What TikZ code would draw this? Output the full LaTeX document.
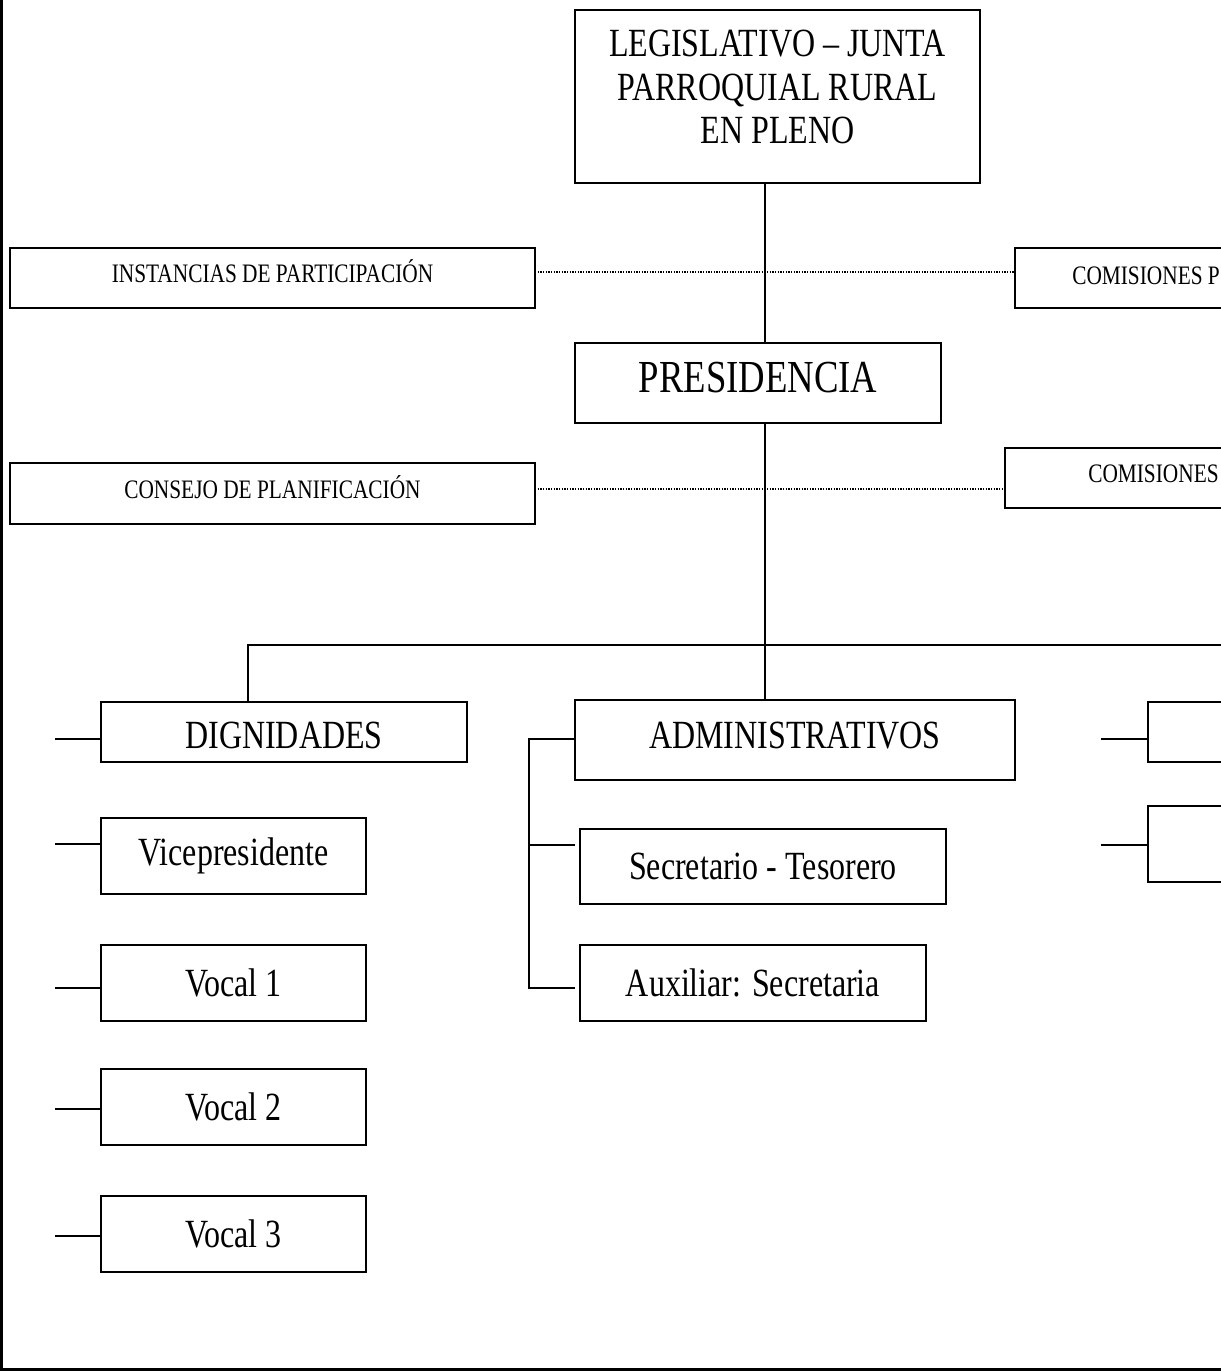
\documentclass[tikz,border=0pt]{standalone}
\usepackage{fontspec}
\setmainfont{Liberation Serif}[FakeStretch=0.8]
\begin{document}
\begin{tikzpicture}[x=0.75pt,y=-0.75pt,
  bx/.style 2 args={draw, line width=1.5pt, inner sep=0pt, outer sep=0pt,
    minimum width=#1*0.75pt, minimum height=#2*0.75pt, align=center},
  bigtxt/.style={font=\fontsize{30}{32.3}\selectfont},
  prestxt/.style={font=\fontsize{34.4}{36}\selectfont},
  smalltxt/.style={font=\fontsize{20}{22}\selectfont},
  tpos/.style={text height=#1, text depth=0pt},
  conn/.style={line width=1.5pt},
  dots/.style={line width=1pt, dash pattern=on 1pt off 1pt},
  frame/.style={line width=2.2pt}]
\useasboundingbox (0,0) rectangle (1221,1371);
\clip (0,0) rectangle (1221,1371);

% frame (left and bottom)
\draw[frame] (1.4,0) -- (1.4,1369.5) -- (1221,1369.5);

% top
\node[bx={405}{173}] (top) at (777.5,96.5) {};
\node[bigtxt, align=center, inner sep=0pt] (toptxt) at (777.5,87) {LEGISLATIVO – JUNTA\\PARROQUIAL RURAL\\EN PLENO};

% presidencia
\node[bx={366}{80}, prestxt, tpos=14.6pt] (pres) at (758,383) {PRESIDENCIA};

% side boxes
\node[bx={525}{60}, smalltxt, tpos=7.4pt] (inst) at (272.5,278) {INSTANCIAS DE PARTICIPACIÓN};
\node[bx={404}{60}] (comP) at (1217,278) {};
\node[smalltxt, anchor=west, inner sep=0pt] (comPt) at (1072,276) {COMISIONES P};
\node[bx={525}{61}, smalltxt, tpos=7.8pt] (cons) at (272.5,493.5) {CONSEJO DE PLANIFICACIÓN};
\node[bx={404}{60}] (com2) at (1207,478) {};
\node[smalltxt, anchor=west, inner sep=0pt] (com2t) at (1088,474) {COMISIONES};

% level 2
\node[bx={366}{60}, bigtxt, tpos=24pt] (dign) at (284,732) {DIGNIDADES};
\node[bx={440}{80}, bigtxt, tpos=12.8pt] (adm) at (795,740) {ADMINISTRATIVOS};
\node[bx={366}{75}, bigtxt] (sec) at (763,866.5) {Secretario - Tesorero};
\node[bx={346}{76}, bigtxt] (aux) at (753,983) {Auxiliar: Secretaria};
\node[bx={265}{76}, bigtxt] (vice) at (233.5,856) {Vicepresidente};
\node[bx={265}{76}, bigtxt] (v1) at (233.5,983) {Vocal 1};
\node[bx={265}{76}, bigtxt] (v2) at (233.5,1107) {Vocal 2};
\node[bx={265}{76}, bigtxt] (v3) at (233.5,1234) {Vocal 3};
\node[bx={200}{60}] (r1) at (1248,732) {};
\node[bx={200}{76}] (r2) at (1248,844) {};

% spine
\coordinate (spine) at (765,0);
\draw[conn] (top.south -| spine) -- (pres.north -| spine);
\draw[conn] (pres.south -| spine) -- (adm.north -| spine);

% bus
\coordinate (busL) at (248,645);
\coordinate (busR) at (1221,645);
\draw[conn] (dign.north -| busL) -- (busL) -- (busR);

% dotted links
\coordinate (d1) at (0,272);
\coordinate (d2) at (0,489);
\draw[dots] (inst.east |- d1) -- (comP.west |- d1);
\draw[dots] (cons.east |- d2) -- (com2.west |- d2);

% left stubs
\coordinate (sd) at (55,739);
\coordinate (sv) at (55,844);
\coordinate (s1) at (55,988);
\coordinate (s2) at (55,1109);
\coordinate (s3) at (55,1236);
\draw[conn] (sd) -- (sd -| dign.west);
\draw[conn] (sv) -- (sv -| vice.west);
\draw[conn] (s1) -- (s1 -| v1.west);
\draw[conn] (s2) -- (s2 -| v2.west);
\draw[conn] (s3) -- (s3 -| v3.west);

% admin bracket
\coordinate (ba) at (529,739);
\coordinate (bs) at (529,845);
\coordinate (bx) at (529,988);
\draw[conn] (adm.west |- ba) -- (ba) -- (bx) -- (bx -| adm.west);
\draw[conn] (bs) -- (bs -| adm.west);

% right stubs
\coordinate (rs1) at (1101,739);
\coordinate (rs2) at (1101,845);
\draw[conn] (rs1) -- (rs1 -| r1.west);
\draw[conn] (rs2) -- (rs2 -| r2.west);
\end{tikzpicture}
\end{document}
